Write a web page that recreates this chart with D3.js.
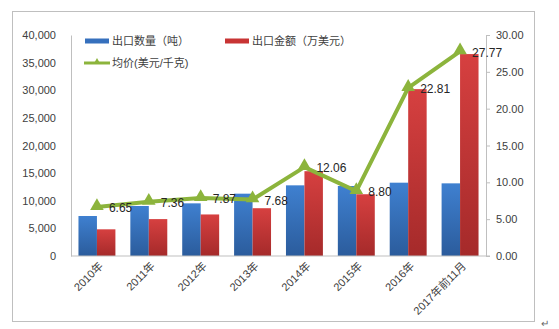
<!DOCTYPE html>
<html><head><meta charset="utf-8">
<script src="https://cdn.jsdelivr.net/npm/d3@7"></script>
<style>
html,body{margin:0;padding:0;background:#fff;}
svg{display:block;font-family:"Liberation Sans",Arial,"Noto Sans CJK SC",sans-serif;}
</style></head><body>
<svg id="c" width="559" height="329"></svg>
<script>
const categories = ["2010年","2011年","2012年","2013年","2014年","2015年","2016年","2017年前11月"];
const quantity = [7240, 9050, 9530, 11280, 12790, 12670, 13270, 13150];
const amount = [4830, 6680, 7520, 8650, 15350, 11180, 30200, 36550];
const price = [6.65, 7.36, 7.87, 7.68, 12.06, 8.80, 22.81, 27.77];
const leftTicks = [0,5000,10000,15000,20000,25000,30000,35000,40000];
const rightTicks = [0,5,10,15,20,25,30];
const seriesNames = ["出口数量（吨）","出口金额（万美元）","均价(美元/千克)"];

const svg = d3.select("#c");
const L = 71, R = 486, T = 35, B = 256;
const textCol = "#404040";

const defs = svg.append("defs");
function grad(id, c1, c2){
  const g = defs.append("linearGradient").attr("id", id).attr("x1",0).attr("y1",0).attr("x2",0).attr("y2",1);
  g.append("stop").attr("offset","0%").attr("stop-color",c1);
  g.append("stop").attr("offset","100%").attr("stop-color",c2);
}
grad("gb", "#3f80d0", "#2b5c9c");
grad("gr", "#d64040", "#a52a2a");

// frame
svg.append("rect").attr("x",12.5).attr("y",11.5).attr("width",522).attr("height",310)
  .attr("fill","none").attr("stroke","#bfbfbf").attr("stroke-width",1);
svg.append("text").attr("x",541).attr("y",327).attr("font-size",10).attr("fill","#666").text("↵");

const x = d3.scaleBand().domain(categories).range([L, R]).padding(0);
const yL = d3.scaleLinear().domain([0, 40000]).range([B, T]);
const yR = d3.scaleLinear().domain([0, 30]).range([B, T]);
const bw = x.bandwidth() * 0.356;

// bars
svg.append("g").selectAll("rect").data(categories).join("rect")
  .attr("x", d => x(d) + x.bandwidth()/2 - bw)
  .attr("y", (d,i) => yL(quantity[i]))
  .attr("width", bw)
  .attr("height", (d,i) => B - yL(quantity[i]))
  .attr("fill", "url(#gb)");
svg.append("g").selectAll("rect").data(categories).join("rect")
  .attr("x", d => x(d) + x.bandwidth()/2)
  .attr("y", (d,i) => yL(amount[i]))
  .attr("width", bw)
  .attr("height", (d,i) => B - yL(amount[i]))
  .attr("fill", "url(#gr)");

// axes
const fmt = d3.format(",");
const axL = svg.append("g").attr("transform", `translate(${L},0)`)
  .call(d3.axisLeft(yL).tickValues(leftTicks).tickFormat(fmt).tickSize(0).tickPadding(15));
const axR = svg.append("g").attr("transform", `translate(${R},0)`)
  .call(d3.axisRight(yR).tickValues(rightTicks).tickFormat(d3.format(".2f")).tickSize(4).tickPadding(6));
const axB = svg.append("g").attr("transform", `translate(0,${B})`)
  .call(d3.axisBottom(x).tickSize(0).tickPadding(6));
[axL, axR, axB].forEach(a => {
  a.select(".domain").attr("stroke", "#bfbfbf");
  a.selectAll(".tick line").attr("stroke", "#bfbfbf");
  a.selectAll("text").attr("fill", textCol).attr("font-size", 11)
    .attr("font-family", '"Liberation Sans",Arial,"Noto Sans CJK SC",sans-serif');
});
axB.select(".domain").attr("d", `M${L},0H${R + 4}`);
axB.selectAll(".tick text")
  .attr("text-anchor", "end")
  .attr("dy", "0.35em")
  .attr("transform", "translate(4,8) rotate(-45)")
  .attr("y", 0).attr("x", 0);

// line
const line = d3.line().x((d,i) => x(categories[i]) + x.bandwidth()/2).y(d => yR(d));
svg.append("path").datum(price).attr("d", line)
  .attr("fill","none").attr("stroke","#8cb43c").attr("stroke-width",4).attr("stroke-linejoin","round");
const tri = d3.symbol().type(d3.symbolTriangle).size(80);
svg.append("g").selectAll("path").data(price).join("path")
  .attr("d", tri)
  .attr("transform", (d,i) => `translate(${x(categories[i]) + x.bandwidth()/2},${yR(d) - 1})`)
  .attr("fill","#8cb43c");
svg.append("g").selectAll("text").data(price).join("text")
  .attr("x", (d,i) => x(categories[i]) + x.bandwidth()/2 + 12)
  .attr("y", d => yR(d) + 1)
  .attr("dy","0.35em")
  .attr("font-size", 12).attr("fill", "#262626")
  .text(d => d.toFixed(2));

// legend
const lg = svg.append("g").attr("font-size", 11).attr("fill", textCol);
lg.append("rect").attr("x",85).attr("y",38.5).attr("width",24).attr("height",5).attr("fill","#3670bd");
lg.append("text").attr("x",112).attr("y",41).attr("dy","0.35em").text(seriesNames[0]);
lg.append("rect").attr("x",225).attr("y",38.5).attr("width",24).attr("height",5).attr("fill","#c83434");
lg.append("text").attr("x",252).attr("y",41).attr("dy","0.35em").text(seriesNames[1]);
lg.append("line").attr("x1",84).attr("x2",110).attr("y1",63).attr("y2",63).attr("stroke","#8cb43c").attr("stroke-width",3);
lg.append("path").attr("d", d3.symbol().type(d3.symbolTriangle).size(20)).attr("transform","translate(97,62)").attr("fill","#8cb43c");
lg.append("text").attr("x",112).attr("y",63).attr("dy","0.35em").text(seriesNames[2]);
</script>
</body></html>
